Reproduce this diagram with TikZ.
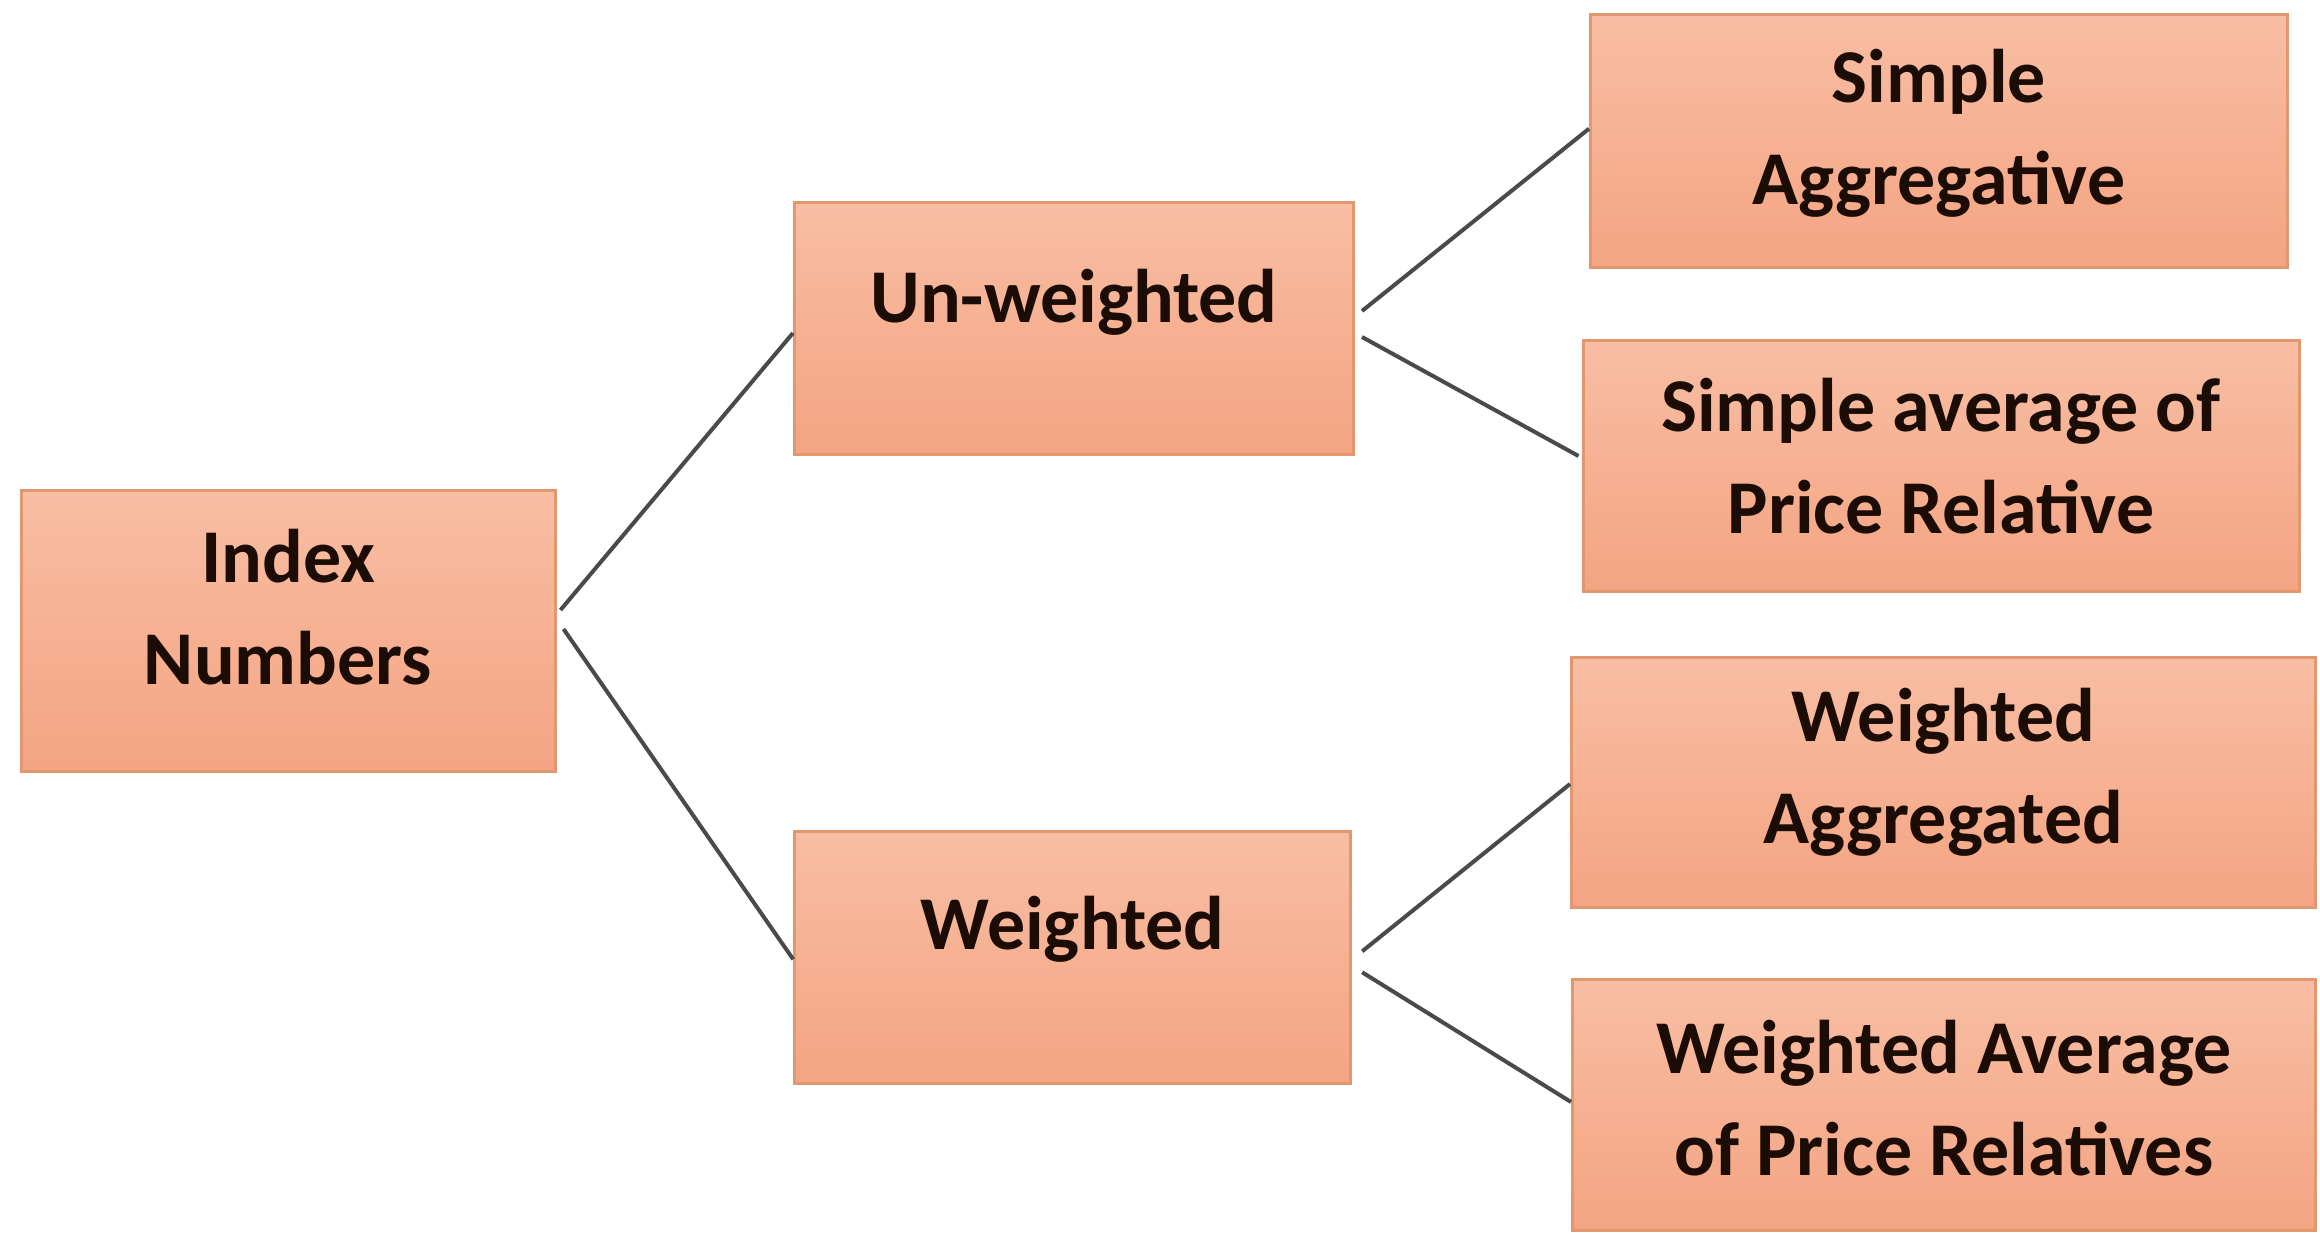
\documentclass[tikz,border=0pt]{standalone}
\usepackage{fontspec}
\setmainfont{Carlito}
\usetikzlibrary{calc}
\definecolor{boxtop}{HTML}{F8BEA3}
\definecolor{boxbot}{HTML}{F4A482}
\definecolor{boxline}{HTML}{E2976F}
\definecolor{txtcol}{HTML}{1C0C06}
\definecolor{linkcol}{HTML}{4A4A4A}
\tikzset{
  box/.style={draw=boxline, line width=1.5pt, top color=boxtop, bottom color=boxbot,
    rectangle, inner sep=0pt},
  txt/.style={align=center, text=txtcol, font=\fontsize{38}{51}\selectfont\bfseries, inner sep=0pt},
  link/.style={draw=linkcol, line width=2pt}
}
\begin{document}
\begin{tikzpicture}[x=0.5pt, y=-0.5pt]
\useasboundingbox[fill=white] (0,0) rectangle (2320,1235);
% boxes
\node[box, minimum width=267pt, minimum height=140pt] (idx) at (288,631) {};
\node[box, minimum width=279.5pt, minimum height=125.75pt] (unw) at (1074,328.5) {};
\node[box, minimum width=278pt, minimum height=125.75pt] (wtd) at (1072.7,957.3) {};
\node[box, minimum width=348.5pt, minimum height=126.5pt] (sa) at (1939,141.3) {};
\node[box, minimum width=358pt, minimum height=125.75pt] (sap) at (1941,466) {};
\node[box, minimum width=372pt, minimum height=125pt] (wa) at (1943.5,782) {};
\node[box, minimum width=371.5pt, minimum height=125.75pt] (wap) at (1944,1105) {};
% texts
\node[txt] (idxt) at ($(idx)+(0,-24)$) {Index\\Numbers};
\node[txt] (unwt) at ($(unw)+(0,-26)$) {Un-weighted};
\node[txt] (wtdt) at ($(wtd)+(0,-28)$) {Weighted};
\node[txt] (sat) at ($(sa)+(0,-8)$) {Simple\\Aggregative};
\node[txt] (sapt) at ($(sap)+(0,-10)$) {Simple average of\\Price Relative};
\node[txt] (wat) at ($(wa)+(0,-10)$) {Weighted\\Aggregated};
\node[txt] (wapt) at ($(wap)+(0,-7)$) {Weighted Average\\of Price Relatives};
% connectors
\draw[link] ($(idx.east)+(4,-21)$) -- ($(unw.west)+(0,4.5)$);
\draw[link] ($(idx.east)+(7,-2)$) -- ($(wtd.west)+(0,2)$);
\draw[link] ($(unw.east)+(7,-17.5)$) -- ($(sa.west)+(0,-12.6)$);
\draw[link] ($(unw.east)+(7,8.5)$) -- ($(sap.west)+(-3,-10)$);
\draw[link] ($(wtd.east)+(10,-6)$) -- ($(wa.west)+(0,2)$);
\draw[link] ($(wtd.east)+(10,15)$) -- ($(wap.west)+(0,-3)$);
\end{tikzpicture}
\end{document}
